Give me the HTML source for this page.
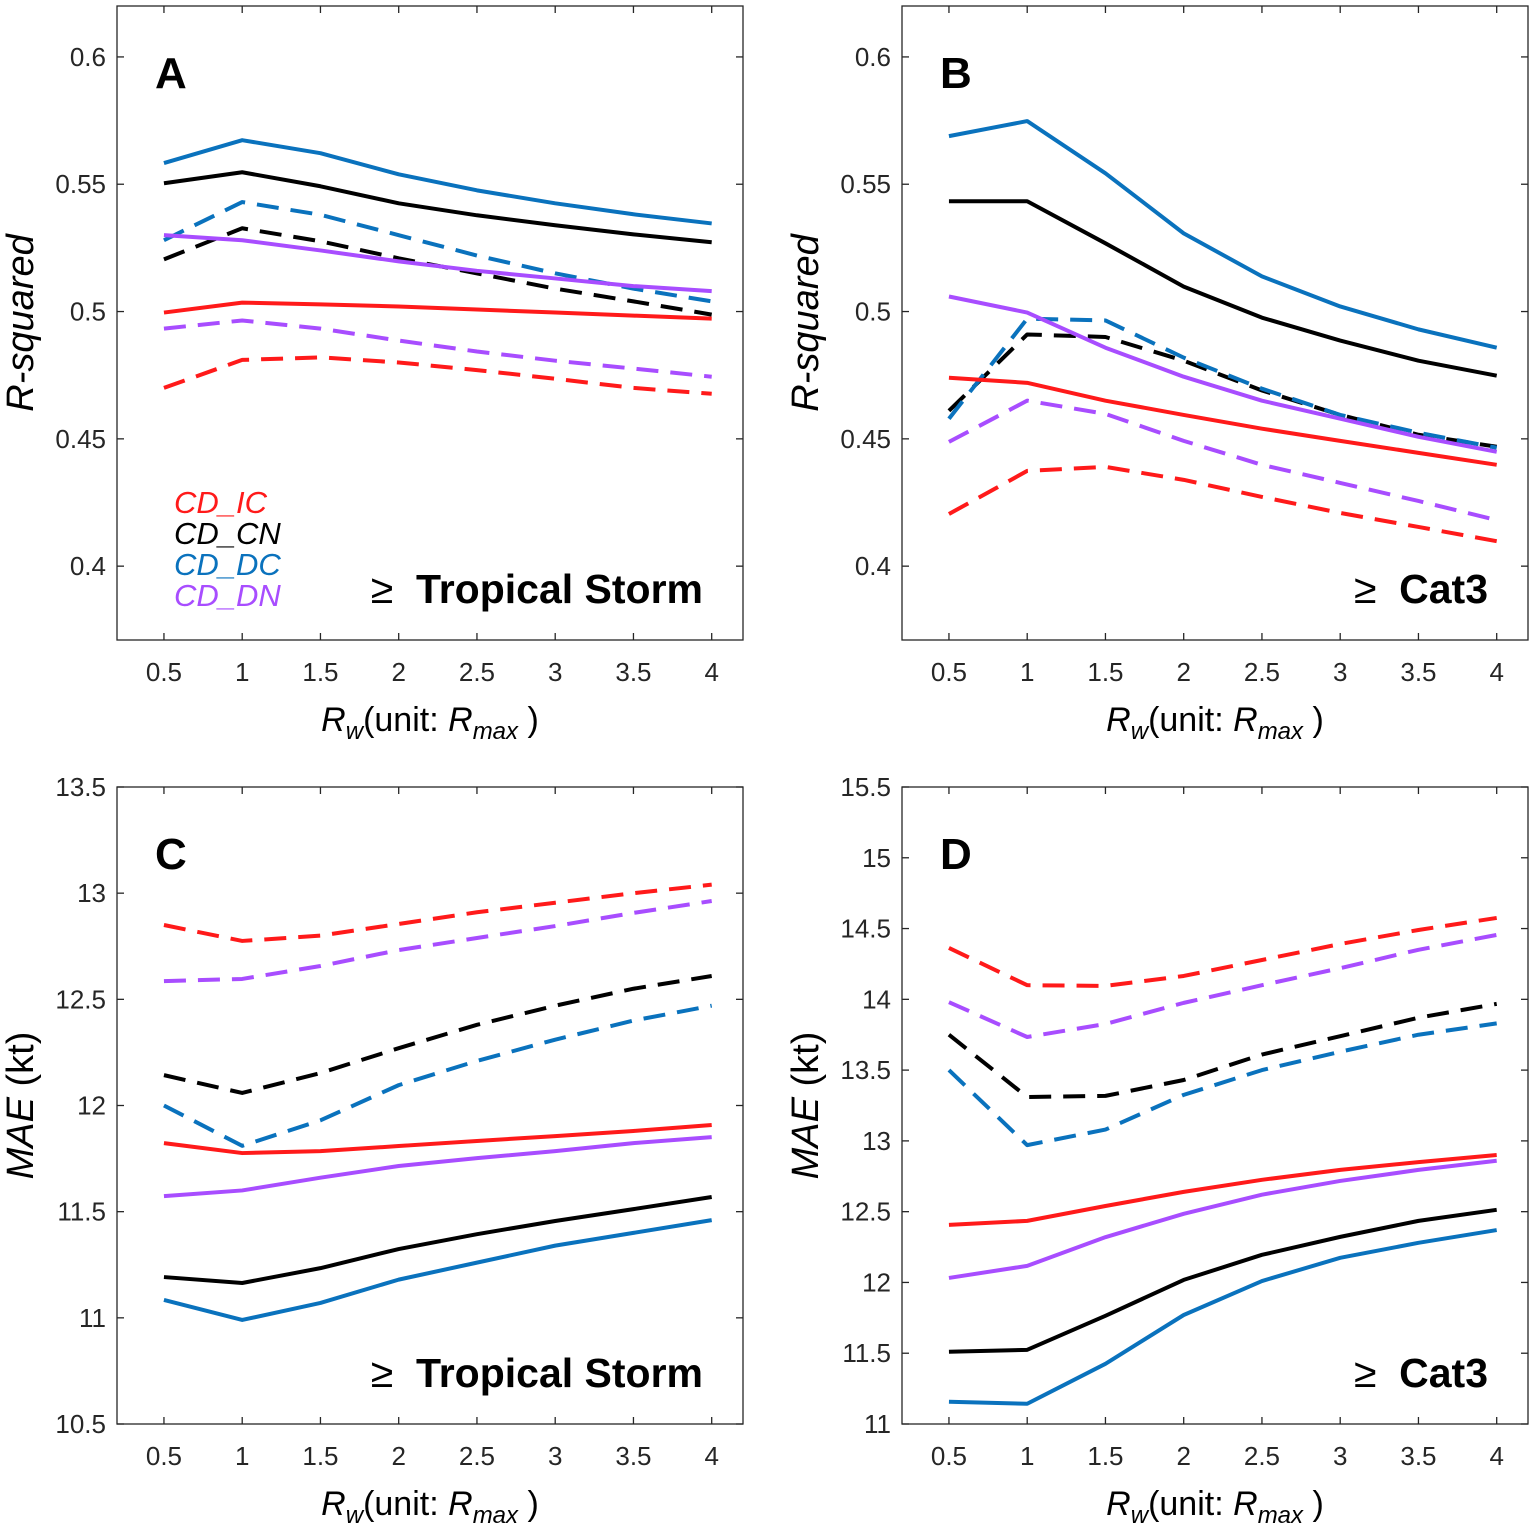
<!DOCTYPE html>
<html><head><meta charset="utf-8"><style>
body{margin:0;background:#fff;}
svg text{font-family:"Liberation Sans",Arial,sans-serif;}
</style></head><body>
<svg id="fig" width="1535" height="1530" xmlns="http://www.w3.org/2000/svg"></svg>
<script>
const xCats=[0.5,1,1.5,2,2.5,3,3.5,4];
const xTickLabels=["0.5","1","1.5","2","2.5","3","3.5","4"];
const seriesNames=["CD_IC","CD_CN","CD_DC","CD_DN"];
// Panel A: R-squared, >= Tropical Storm
const aIC=[0.4996,0.5035,0.5028,0.502,0.5008,0.4996,0.4984,0.4972];
const aCN=[0.5504,0.5547,0.5492,0.5425,0.5378,0.5339,0.5303,0.5272];
const aDC=[0.5583,0.5673,0.5622,0.5539,0.5476,0.5425,0.5382,0.5346];
const aDN=[0.530,0.528,0.524,0.5197,0.516,0.513,0.510,0.508];
const aICd=[0.470,0.481,0.482,0.480,0.477,0.4736,0.470,0.4677];
const aCNd=[0.5205,0.5327,0.5276,0.5209,0.515,0.509,0.504,0.4988];
const aDCd=[0.528,0.543,0.538,0.530,0.522,0.515,0.509,0.504];
const aDNd=[0.4933,0.4965,0.4933,0.4886,0.4843,0.4807,0.4776,0.4744];
// Panel B: R-squared, >= Cat3
const bIC=[0.474,0.472,0.465,0.4594,0.454,0.4492,0.4445,0.4398];
const bCN=[0.5433,0.5433,0.5268,0.5098,0.4976,0.4886,0.4807,0.4748];
const bDC=[0.5689,0.5748,0.5543,0.5307,0.5138,0.502,0.493,0.4858];
const bDN=[0.5059,0.4996,0.4858,0.4744,0.465,0.4579,0.4508,0.4449];
const bICd=[0.4205,0.4374,0.439,0.4339,0.4272,0.4209,0.4154,0.4098];
const bCNd=[0.461,0.491,0.490,0.4807,0.469,0.4594,0.4516,0.4469];
const bDCd=[0.4579,0.4972,0.4965,0.4819,0.4697,0.4594,0.4524,0.4465];
const bDNd=[0.4488,0.465,0.4598,0.4492,0.4398,0.4327,0.4256,0.4181];
// Panel C: MAE, >= Tropical Storm
const cIC=[11.823,11.776,11.785,11.809,11.833,11.856,11.88,11.908];
const cCN=[11.192,11.164,11.234,11.324,11.394,11.456,11.512,11.569];
const cDC=[11.084,10.99,11.07,11.18,11.26,11.34,11.40,11.46];
const cDN=[11.573,11.60,11.66,11.715,11.752,11.785,11.823,11.851];
const cICd=[12.85,12.775,12.80,12.855,12.91,12.955,13.0,13.04];
const cCNd=[12.143,12.059,12.153,12.27,12.38,12.47,12.55,12.61];
const cDCd=[12.0,11.81,11.93,12.096,12.21,12.31,12.40,12.47];
const cDNd=[12.586,12.596,12.657,12.732,12.789,12.845,12.907,12.963];
// Panel D: MAE, >= Cat3
const dIC=[12.407,12.435,12.54,12.64,12.725,12.795,12.85,12.90];
const dCN=[11.51,11.524,11.764,12.018,12.195,12.322,12.435,12.513];
const dDC=[11.157,11.143,11.425,11.77,12.01,12.174,12.28,12.37];
const dDN=[12.032,12.117,12.32,12.485,12.62,12.717,12.795,12.86];
const dICd=[14.363,14.10,14.095,14.165,14.278,14.391,14.49,14.575];
const dCNd=[13.75,13.31,13.318,13.43,13.61,13.74,13.87,13.968];
const dDCd=[13.5,12.97,13.08,13.325,13.5,13.63,13.75,13.83];
const dDNd=[13.98,13.734,13.826,13.975,14.10,14.22,14.35,14.455];
const rTicks=[0.4,0.45,0.5,0.55,0.6];
const rTickLabels=["0.4","0.45","0.5","0.55","0.6"];
const cTicks=[10.5,11,11.5,12,12.5,13,13.5];
const cTickLabels=["10.5","11","11.5","12","12.5","13","13.5"];
const dTicks=[11,11.5,12,12.5,13,13.5,14,14.5,15,15.5];
const dTickLabels=["11","11.5","12","12.5","13","13.5","14","14.5","15","15.5"];

const NS="http://www.w3.org/2000/svg";
const svg=document.getElementById('fig');
const colors={IC:"#ff1a1a",CN:"#000000",DC:"#0a72bd",DN:"#a84dff"};
function el(tag,attrs,parent,text){const e=document.createElementNS(NS,tag);for(const k in attrs)e.setAttribute(k,attrs[k]);if(text!==undefined)e.textContent=text;(parent||svg).appendChild(e);return e;}

function panel(o){
  const g=el('g',{});
  
  
  const L=o.x0,R=o.x0+626,T=o.y0,B=o.y0+o.h;
  const xs=v=>L+(v-0.2)/(4.2-0.2)*(R-L);
  const ys=v=>B-(v-o.ymin)/(o.ymax-o.ymin)*(B-T);
  const box=el('rect',{x:L,y:T,width:R-L,height:B-T,fill:'none',stroke:'#262626','stroke-width':1.3},g);
  
  
  xCats.forEach((v,i)=>{
    const x=xs(v);
    el('line',{x1:x,x2:x,y1:B,y2:B-7,stroke:'#262626','stroke-width':1.3},g);
    el('line',{x1:x,x2:x,y1:T,y2:T+7,stroke:'#262626','stroke-width':1.3},g);
    const t=el('text',{x:x,y:B+41,'text-anchor':'middle','font-size':26,fill:'#262626'},g,xTickLabels[i]);
    
    
  });
  o.ticks.forEach((v,i)=>{
    const y=ys(v);
    el('line',{x1:L,x2:L+7,y1:y,y2:y,stroke:'#262626','stroke-width':1.3},g);
    el('line',{x1:R,x2:R-7,y1:y,y2:y,stroke:'#262626','stroke-width':1.3},g);
    const t=el('text',{x:L-11,y:y+9,'text-anchor':'end','font-size':26,fill:'#262626'},g,o.tickLabels[i]);
    
    
  });
  const keys=["IC","CN","DC","DN"];
  keys.forEach((k,i)=>{
    const dd=o.dashed[i];
    const p=el('polyline',{points:xCats.map((v,j)=>xs(v)+','+ys(dd[j])).join(' '),fill:'none',stroke:colors[k],'stroke-width':4,'stroke-dasharray':'22 12','stroke-linejoin':'round'},g);
    
    
  });
  keys.forEach((k,i)=>{
    const dd=o.solid[i];
    const p=el('polyline',{points:xCats.map((v,j)=>xs(v)+','+ys(dd[j])).join(' '),fill:'none',stroke:colors[k],'stroke-width':4,'stroke-linejoin':'round'},g);
    
    
  });
  const lt=el('text',{x:L+38,y:T+82,'font-size':44,'font-weight':'bold',fill:'#000'},g,o.id);
  
  
  const cat=el('text',{x:R-40,y:o.catY,'text-anchor':'end','font-size':41,'font-weight':'bold',fill:'#000'},g);
  
  
  el('tspan',{'font-weight':'normal'},cat,'≥');
  el('tspan',{},cat,'  '+o.cat);
  cat.setAttribute('xml:space','preserve');
  cat.style.whiteSpace='pre';
  const yl=el('text',{transform:`translate(${L-84},${(T+B)/2}) rotate(-90)`,'text-anchor':'middle','font-size':38,'font-style':'italic',fill:'#000'},g,o.ylabel);
  
  
  if(o.ylabelUnit){yl.textContent='';el('tspan',{},yl,'MAE');el('tspan',{'font-style':'normal'},yl,' (kt)');}
  const xl=el('text',{x:(L+R)/2,y:B+91,'text-anchor':'middle','font-size':34,fill:'#000'},g);
  
  
  el('tspan',{'font-style':'italic'},xl,'R');
  el('tspan',{'font-style':'italic','font-size':24,dy:8},xl,'w');
  el('tspan',{dy:-8},xl,'(unit: ');
  el('tspan',{'font-style':'italic'},xl,'R');
  el('tspan',{'font-style':'italic','font-size':24,dy:8},xl,'max');
  el('tspan',{dy:-8},xl,' )');
  if(o.legend){
    seriesNames.forEach((n,i)=>{
      const t=el('text',{x:L+57,y:T+507+i*31,'font-size':31,'font-style':'italic',fill:colors[["IC","CN","DC","DN"][i]]},g,n);
      
      
    });
  }
}
panel({id:'A',x0:117,y0:6,h:634,ymin:0.371,ymax:0.62,ticks:rTicks,tickLabels:rTickLabels,solid:[aIC,aCN,aDC,aDN],dashed:[aICd,aCNd,aDCd,aDNd],cat:'Tropical Storm',catY:603,ylabel:'R-squared',legend:true});
panel({id:'B',x0:902,y0:6,h:634,ymin:0.371,ymax:0.62,ticks:rTicks,tickLabels:rTickLabels,solid:[bIC,bCN,bDC,bDN],dashed:[bICd,bCNd,bDCd,bDNd],cat:'Cat3',catY:603,ylabel:'R-squared'});
panel({id:'C',x0:117,y0:787,h:637,ymin:10.5,ymax:13.5,ticks:cTicks,tickLabels:cTickLabels,solid:[cIC,cCN,cDC,cDN],dashed:[cICd,cCNd,cDCd,cDNd],cat:'Tropical Storm',catY:1387,ylabel:'MAE',ylabelUnit:true});
panel({id:'D',x0:902,y0:787,h:637,ymin:11,ymax:15.5,ticks:dTicks,tickLabels:dTickLabels,solid:[dIC,dCN,dDC,dDN],dashed:[dICd,dCNd,dDCd,dDNd],cat:'Cat3',catY:1387,ylabel:'MAE',ylabelUnit:true});
</script>
</body></html>
